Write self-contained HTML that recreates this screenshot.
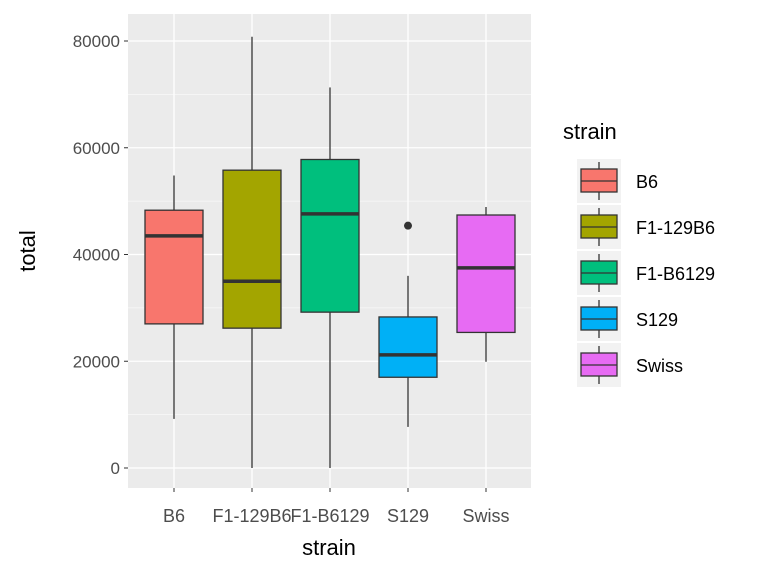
<!DOCTYPE html>
<html><head><meta charset="utf-8"><style>
html,body{margin:0;padding:0;width:768px;height:576px;overflow:hidden;background:#fff;font-family:"Liberation Sans",sans-serif}
svg{display:block}
</style></head><body>
<svg id="chart" width="768" height="576" xmlns="http://www.w3.org/2000/svg" font-family="Liberation Sans, sans-serif">
<rect x="128" y="14" width="403" height="474" fill="#EBEBEB"/>
<g id="grid"></g><g id="boxes"></g><g id="axes"></g><g id="legend"></g>
<text x="329" y="555" text-anchor="middle" font-size="22" fill="#000">strain</text>
<text transform="translate(35,251) rotate(-90)" text-anchor="middle" font-size="22" fill="#000">total</text>
<text x="563" y="139" font-size="22" fill="#000">strain</text>
</svg>
<script>
const categories=["B6","F1-129B6","F1-B6129","S129","Swiss"];
const colors=["#F8766D","#A3A500","#00BF7D","#00B0F6","#E76BF3"];
const whiskerLow=[9200,0,0,7700,19900];
const q1=[27000,26200,29200,17000,25400];
const medians=[43500,35000,47600,21200,37500];
const q3=[48300,55800,57800,28300,47400];
const whiskerHigh=[54800,80800,71300,36000,48900];
const outliers=[[],[],[],[45400],[]];
const yTicks=[0,20000,40000,60000,80000];
const NS="http://www.w3.org/2000/svg";
const y=v=>468-v*(427/80000);
const x=i=>174+i*78;
function mk(p,t,a){const e=document.createElementNS(NS,t);for(const k in a)e.setAttribute(k,a[k]);p.appendChild(e);return e;}
const grid=document.getElementById('grid'),boxes=document.getElementById('boxes'),axes=document.getElementById('axes'),legend=document.getElementById('legend');
for(let i=0;i<yTicks.length-1;i++){const l=mk(grid,'line',{x1:128,x2:531,y1:y((yTicks[i]+yTicks[i+1])/2),y2:y((yTicks[i]+yTicks[i+1])/2),stroke:'#fff','stroke-width':0.6});

}
yTicks.forEach(t=>{const l=mk(grid,'line',{x1:128,x2:531,y1:y(t),y2:y(t),stroke:'#fff','stroke-width':1.3});


mk(axes,'line',{x1:124,x2:128,y1:y(t),y2:y(t),stroke:'#333','stroke-width':1});
const tx=mk(axes,'text',{x:120,y:y(t)+6,'text-anchor':'end','font-size':17,fill:'#4D4D4D'});tx.textContent=t;

});
categories.forEach((c,i)=>{const l=mk(grid,'line',{x1:x(i),x2:x(i),y1:14,y2:488,stroke:'#fff','stroke-width':1.3});


mk(axes,'line',{x1:x(i),x2:x(i),y1:488,y2:492,stroke:'#333','stroke-width':1});
const tx=mk(axes,'text',{x:x(i),y:522,'text-anchor':'middle','font-size':18,fill:'#4D4D4D'});tx.textContent=c;


const g=mk(boxes,'g',{});


mk(g,'line',{x1:x(i),x2:x(i),y1:y(whiskerHigh[i]),y2:y(q3[i]),stroke:'#333','stroke-width':1.3});
mk(g,'line',{x1:x(i),x2:x(i),y1:y(q1[i]),y2:y(whiskerLow[i]),stroke:'#333','stroke-width':1.3});
mk(g,'rect',{x:x(i)-29,y:y(q3[i]),width:58,height:y(q1[i])-y(q3[i]),fill:colors[i],stroke:'#333','stroke-width':1.3});
mk(g,'line',{x1:x(i)-29,x2:x(i)+29,y1:y(medians[i]),y2:y(medians[i]),stroke:'#333','stroke-width':3.5});
outliers[i].forEach(o=>{const p=mk(g,'circle',{cx:x(i),cy:y(o),r:4,fill:'#333'});

});
const ly=159+i*46;
const lg=mk(legend,'g',{});


mk(lg,'rect',{x:577,y:ly,width:44,height:44,fill:'#F2F2F2'});
mk(lg,'line',{x1:599,x2:599,y1:ly+3,y2:ly+41,stroke:'#333','stroke-width':1.3});
mk(lg,'rect',{x:581,y:ly+10,width:36,height:23,fill:colors[i],stroke:'#333','stroke-width':1.3});
mk(lg,'line',{x1:581,x2:617,y1:ly+22,y2:ly+22,stroke:'#333','stroke-width':1.3});
const lt=mk(lg,'text',{x:636,y:ly+29,'font-size':18,fill:'#000'});lt.textContent=c;});
</script>
</body></html>
